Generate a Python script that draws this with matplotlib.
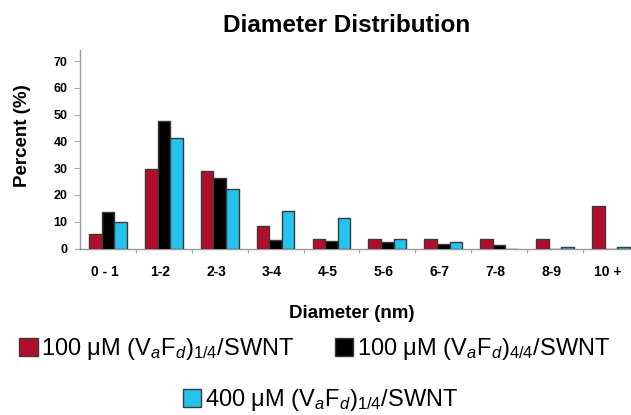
import matplotlib
matplotlib.use("Agg")
import matplotlib.pyplot as plt
import matplotlib.transforms as mtransforms
from matplotlib.ticker import FixedLocator
import numpy as np

plt.rcParams['font.family'] = ['Liberation Sans', 'DejaVu Sans']
plt.rcParams['mathtext.fontset'] = 'custom'
plt.rcParams['mathtext.rm'] = 'Liberation Sans'
plt.rcParams['mathtext.it'] = 'Liberation Sans:italic'
plt.rcParams['mathtext.bf'] = 'Liberation Sans:bold'

categories = ["0 - 1", "1-2", "2-3", "3-4", "4-5", "5-6", "6-7", "7-8", "8-9", "10 +"]
red_100_14 = [5.3, 29.8, 29.0, 8.5, 3.5, 3.5, 3.5, 3.5, 3.5, 16.0]
black_100_44 = [13.5, 47.5, 26.5, 3.2, 2.8, 2.6, 1.7, 1.4, 0.0, 0.0]
blue_400_14 = [10.0, 41.2, 22.4, 13.9, 11.4, 3.4, 2.6, 0.0, 0.5, 0.5]
yticks = [0, 10, 20, 30, 40, 50, 60, 70]

labels = [r"100 μM (V$_{a}$F$_{d}$)$_{\mathit{1/4}}$/SWNT",
          r"100 μM (V$_{a}$F$_{d}$)$_{\mathit{4/4}}$/SWNT",
          r"400 μM (V$_{a}$F$_{d}$)$_{\mathit{1/4}}$/SWNT"]
colors = ["#B20D2C", "#000000", "#27C3F0"]

W, H = 631, 415
fig = plt.figure(figsize=(W / 100, H / 100), dpi=100)
ax = fig.add_axes([80 / W, 1 - 248.5 / H, 551 / W, (248.5 - 50) / H])

x = np.arange(len(categories))
bw = 0.225
series = [red_100_14, black_100_44, blue_400_14]
handles = []
for k, (vals, c, lab) in enumerate(zip(series, colors, labels)):
    b = ax.bar(x + (k - 1) * bw, vals, width=bw, color=c, edgecolor="#3a3a3a",
               linewidth=1.0, label=lab, zorder=3)
    handles.append(b)

ax.set_xlim(-0.5, 9.36)
ax.set_ylim(0, 74.2)
ax.set_yticks(yticks)
ax.set_xticks(x)
ax.set_xticklabels(categories, fontsize=10, fontweight='bold')
ax.xaxis.set_minor_locator(FixedLocator(np.arange(0.5, 9.5, 1.0)))
ax.tick_params(axis='x', which='major', length=0, pad=12)
ax.tick_params(axis='x', which='minor', length=3, color='#aaaaaa', width=0.8)
ax.tick_params(axis='y', length=4, color='#aaaaaa', width=0.8, pad=5, labelsize=9)
for t in ax.get_yticklabels():
    t.set_fontweight('bold')
off = mtransforms.ScaledTranslation(-3.5 / 100, 0, fig.dpi_scale_trans)
for t in ax.get_xticklabels():
    t.set_transform(t.get_transform() + off)

for s in ['top', 'right']:
    ax.spines[s].set_visible(False)
for s in ['left', 'bottom']:
    ax.spines[s].set_color('#9a9a9a')
    ax.spines[s].set_linewidth(1.0)

ax.set_ylabel("Percent (%)", fontsize=13.5, fontweight='bold')
ax.yaxis.set_label_coords(23 / W, 1 - 135.5 / H, transform=fig.transFigure)
ax.yaxis.label.set_va('center')
ax.set_xlabel("Diameter (nm)", fontsize=13.5, fontweight='bold')
ax.xaxis.set_label_coords(352 / W, 1 - 313 / H, transform=fig.transFigure)
ax.xaxis.label.set_va('center')

fig.suptitle("Diameter Distribution", fontsize=17.5, fontweight='bold',
             x=347 / W, y=1 - 25 / H, va='center')

leg_kw = dict(frameon=False, fontsize=17, handlelength=0.78, handleheight=0.78,
              handletextpad=0.15, columnspacing=1.7, borderpad=0, borderaxespad=0)
leg1 = fig.legend(handles[:2], labels[:2], ncol=2, loc='center',
                  bbox_to_anchor=(314.5 / W, 1 - 349 / H), **leg_kw)
leg2 = fig.legend(handles[2:], labels[2:], ncol=1, loc='center',
                  bbox_to_anchor=(320.5 / W, 1 - 400 / H), **leg_kw)
for leg in (leg1, leg2):
    for p in leg.get_patches():
        p.set_edgecolor('#3a3a3a')
        p.set_linewidth(1.0)

fig.savefig("out.png", dpi=100, facecolor='white')
